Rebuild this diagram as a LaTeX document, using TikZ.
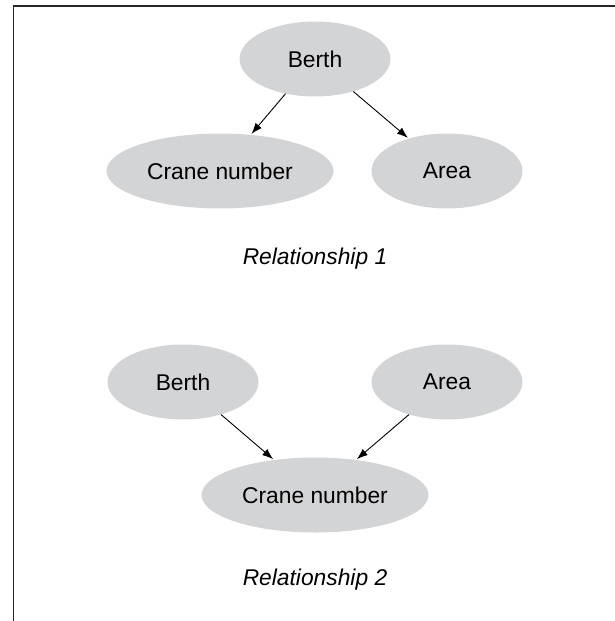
\documentclass[tikz,border=0pt]{standalone}
\usepackage{fontspec}
\setmainfont{Liberation Sans}
\usetikzlibrary{shapes,arrows.meta}
\definecolor{ellgray}{RGB}{211,212,214}

\begin{document}
\begin{tikzpicture}[x=1pt,y=-1pt,font=\fontsize{22.8}{27}\selectfont,
    ent/.style={ellipse,fill=ellgray,inner sep=0pt,minimum height=75pt},
    rel/.style={-{Latex[length=11pt,width=8pt]},line width=0.9pt,shorten >=1pt}]
            \useasboundingbox (0,0) rectangle (615,621);
            \draw[line width=1.6pt,black!85] (615,6) -- (13.5,6) -- (13.5,621);
            % relationship 1
            \node[ent,minimum width=151pt] (B1) at (315,59) {Berth};
            \node[ent,minimum width=227pt] (C1) at (220,171) {Crane number};
            \node[ent,minimum width=151pt] (A1) at (447,171) {Area};
            \foreach \t in {C1,A1} {
                \draw[rel] (B1) -- (\t);
            }
            \node (R1) at (315,259) {\itshape Relationship 1};
            % relationship 2
            \node[ent,minimum width=151pt] (B2) at (183,382) {Berth};
            \node[ent,minimum width=151pt] (A2) at (447,382) {Area};
            \node[ent,minimum width=227pt] (C2) at (315,495) {Crane number};
            \foreach \s in {B2,A2} {
                \draw[rel] (\s) -- (C2);
            }
            \node (R2) at (315,580) {\itshape Relationship 2};
        \end{tikzpicture}
\end{document}
